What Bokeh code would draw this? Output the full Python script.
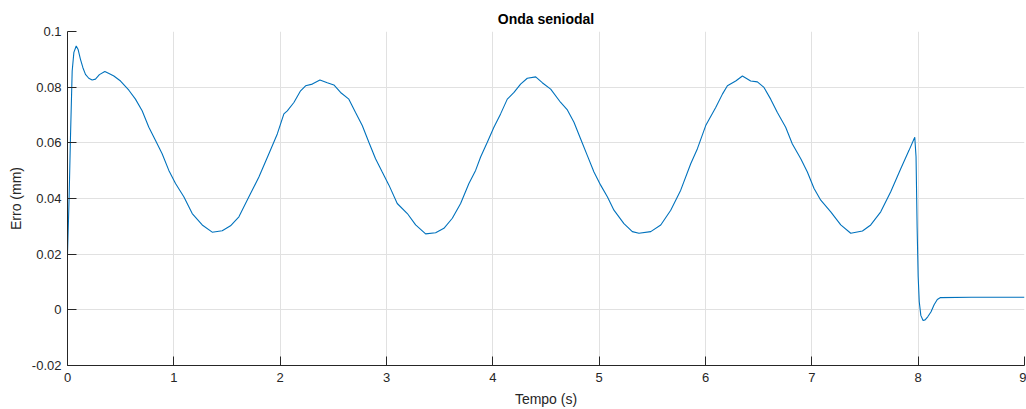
from bokeh.plotting import figure
from bokeh.models import FixedTicker, Range1d
from bokeh.embed import file_html
from bokeh.resources import INLINE

tempo = [0.0, 0.015, 0.028, 0.044, 0.06, 0.082, 0.1, 0.122, 0.145, 0.169, 0.2, 0.232, 0.263,
         0.3, 0.351, 0.395, 0.436, 0.499, 0.577, 0.639, 0.702, 0.765, 0.828, 0.89, 0.953, 1.016,
         1.094, 1.173, 1.267, 1.361, 1.455, 1.533, 1.612, 1.706, 1.8, 1.894, 1.973, 2.035,
         2.067, 2.129, 2.192, 2.239, 2.302, 2.374, 2.443, 2.505, 2.568, 2.646, 2.709, 2.772,
         2.834, 2.897, 2.96, 3.023, 3.101, 3.196, 3.274, 3.368, 3.462, 3.54, 3.619, 3.697,
         3.775, 3.838, 3.885, 3.948, 4.01, 4.073, 4.136, 4.199, 4.261, 4.324, 4.403, 4.465,
         4.544, 4.638, 4.701, 4.763, 4.826, 4.889, 4.951, 5.014, 5.077, 5.139, 5.233, 5.312,
         5.374, 5.485, 5.579, 5.673, 5.767, 5.861, 5.924, 6.002, 6.096, 6.159, 6.206, 6.284,
         6.347, 6.425, 6.488, 6.55, 6.613, 6.676, 6.754, 6.817, 6.896, 6.958, 7.021, 7.084,
         7.178, 7.272, 7.366, 7.476, 7.554, 7.648, 7.742, 7.836, 7.914, 7.968, 7.98, 7.99,
         8.0, 8.01, 8.025, 8.046, 8.065, 8.09, 8.12, 8.15, 8.18, 8.21, 8.5, 9.0]
erro = [0.02, 0.04, 0.062, 0.0858, 0.0925, 0.0948, 0.0935, 0.09, 0.087, 0.0846, 0.0832, 0.0826, 0.0829,
        0.0845, 0.0856, 0.0848, 0.084, 0.0822, 0.0789, 0.0757, 0.0715, 0.0656, 0.0608, 0.0561, 0.0501, 0.0454,
        0.0406, 0.0346, 0.0305, 0.0279, 0.0284, 0.0302, 0.0334, 0.0406, 0.0477, 0.0561, 0.0632, 0.0704,
        0.0715, 0.0745, 0.0787, 0.0805, 0.0811, 0.0826, 0.0816, 0.0808, 0.0781, 0.0757, 0.0709, 0.0662,
        0.0602, 0.0543, 0.0495, 0.0448, 0.0382, 0.0346, 0.0305, 0.0273, 0.0277, 0.0293, 0.0329, 0.0382,
        0.0454, 0.0501, 0.0549, 0.0602, 0.0656, 0.0704, 0.0757, 0.0781, 0.0811, 0.0832, 0.0837, 0.0816,
        0.0793, 0.0745, 0.0718, 0.0674, 0.0614, 0.0554, 0.0495, 0.0448, 0.0406, 0.0358, 0.031, 0.0281,
        0.0275, 0.0281, 0.0305, 0.0358, 0.043, 0.0525, 0.0579, 0.0662, 0.0727, 0.0775, 0.0805, 0.0822,
        0.084, 0.0822, 0.0819, 0.0799, 0.0757, 0.0709, 0.0656, 0.0596, 0.0543, 0.0495, 0.0436, 0.0394,
        0.0352, 0.0305, 0.0275, 0.0283, 0.0305, 0.0352, 0.0424, 0.0507, 0.0573, 0.062, 0.055, 0.03,
        0.012, 0.003, -0.002, -0.0038, -0.0036, -0.0025, -0.0008, 0.0018, 0.0037, 0.0044, 0.0045, 0.0045]

x_ticks = [0, 1, 2, 3, 4, 5, 6, 7, 8, 9]
y_ticks = [-0.02, 0, 0.02, 0.04, 0.06, 0.08, 0.1]
y_labels = ["-0.02", "0", "0.02", "0.04", "0.06", "0.08", "0.1"]

FONT = "Liberation Sans"
DARK = "#262626"

p = figure(width=1026, height=409, output_backend="svg", toolbar_location=None,
           x_range=Range1d(0, 9), y_range=Range1d(-0.02, 0.1),
           min_border_left=67, min_border_right=2, min_border_top=31, min_border_bottom=43,
           title="Onda seniodal")

p.line(tempo, erro, line_color="#0072BD", line_width=1.1)

p.title.align = "center"
p.title.text_font = FONT
p.title.text_font_size = "14px"
p.title.text_font_style = "bold"
p.title.text_color = "#000000"

p.outline_line_color = None
p.background_fill_color = "white"
p.border_fill_color = "white"

for ax in (p.xaxis[0], p.yaxis[0]):
    ax.axis_line_color = DARK
    ax.axis_line_width = 1
    ax.major_tick_line_color = DARK
    ax.major_tick_in = 9
    ax.major_tick_out = 0
    ax.minor_tick_line_color = None
    ax.major_label_text_font = FONT
    ax.major_label_text_font_size = "13px"
    ax.major_label_text_color = DARK
    ax.axis_label_text_font = FONT
    ax.axis_label_text_font_size = "14px"
    ax.axis_label_text_font_style = "normal"
    ax.axis_label_text_color = DARK

p.xaxis.ticker = FixedTicker(ticks=x_ticks)
p.yaxis.ticker = FixedTicker(ticks=y_ticks)
p.yaxis.major_label_overrides = {v: s for v, s in zip(y_ticks, y_labels)}
p.xaxis.axis_label = "Tempo (s)"
p.yaxis.axis_label = "Erro (mm)"
p.xaxis.major_label_standoff = 7
p.yaxis.major_label_standoff = 6
p.xaxis.axis_label_standoff = 6
p.yaxis.axis_label_standoff = 5

for g in (p.xgrid[0], p.ygrid[0]):
    g.grid_line_color = "#e1e1e1"
    g.grid_line_width = 1

open("out.html", "w").write(file_html(p, INLINE))
